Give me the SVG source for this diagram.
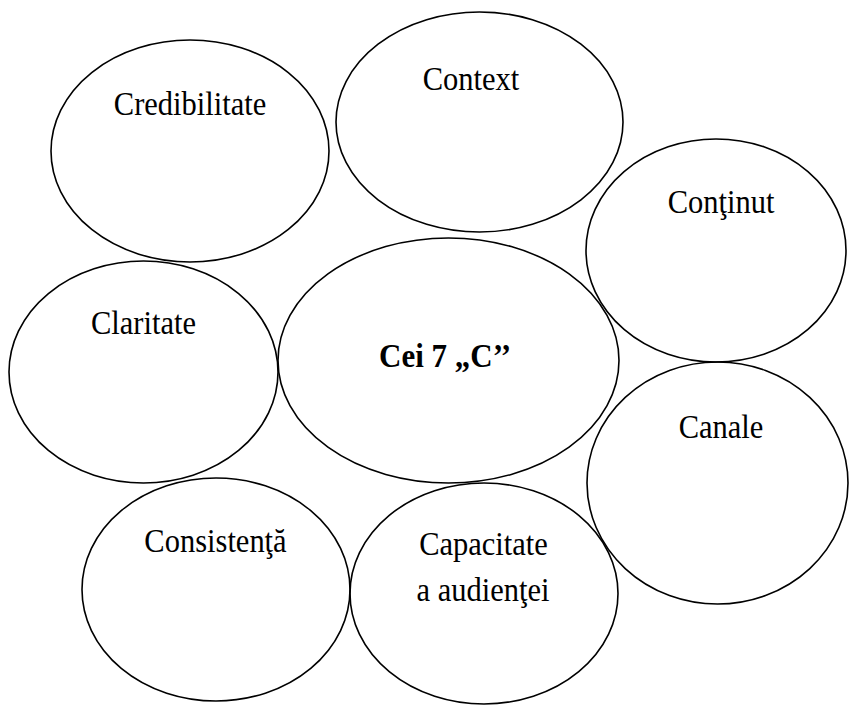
<svg xmlns="http://www.w3.org/2000/svg" width="849" height="705" viewBox="0 0 849 705">
<style>
.n ellipse{fill:none;stroke:#000;stroke-width:1.6}
text{font-family:"Liberation Serif","Times New Roman",serif;font-size:30.5px;fill:#000;text-anchor:middle}
.b{font-weight:bold;font-size:31px}
</style>
<rect width="849" height="705" fill="#fff"/>
<g id="connectors"></g>
<g id="credibilitate" class="n"><ellipse cx="190" cy="151" rx="139" ry="111"/><text transform="translate(190 115) scale(1 1.1)">Credibilitate</text></g>
<g id="context" class="n"><ellipse cx="479.5" cy="122" rx="143.5" ry="110"/><text transform="translate(471 90) scale(1 1.1)">Context</text></g>
<g id="continut" class="n"><ellipse cx="716" cy="250.5" rx="130" ry="111.5"/><text transform="translate(721 213) scale(1 1.1)">Conţinut</text></g>
<g id="claritate" class="n"><ellipse cx="143.5" cy="372" rx="134.5" ry="111"/><text transform="translate(143.5 334) scale(1 1.1)">Claritate</text></g>
<g id="centru" class="n"><ellipse cx="448.5" cy="360.5" rx="170.5" ry="122.5"/><text class="b" transform="translate(445 367) scale(1 1.1)">Cei 7 „C’’</text></g>
<g id="canale" class="n"><ellipse cx="717.5" cy="483" rx="130.5" ry="121"/><text transform="translate(721 438) scale(1 1.1)">Canale</text></g>
<g id="consistenta" class="n"><ellipse cx="216" cy="589.5" rx="134" ry="111.5"/><text transform="translate(215.5 552) scale(1 1.1)">Consistenţă</text></g>
<g id="capacitate" class="n"><ellipse cx="484" cy="593.5" rx="134" ry="110.5"/><text transform="translate(483.5 555) scale(1 1.1)">Capacitate</text><text transform="translate(483 601) scale(1 1.1)">a audienţei</text></g>
</svg>
